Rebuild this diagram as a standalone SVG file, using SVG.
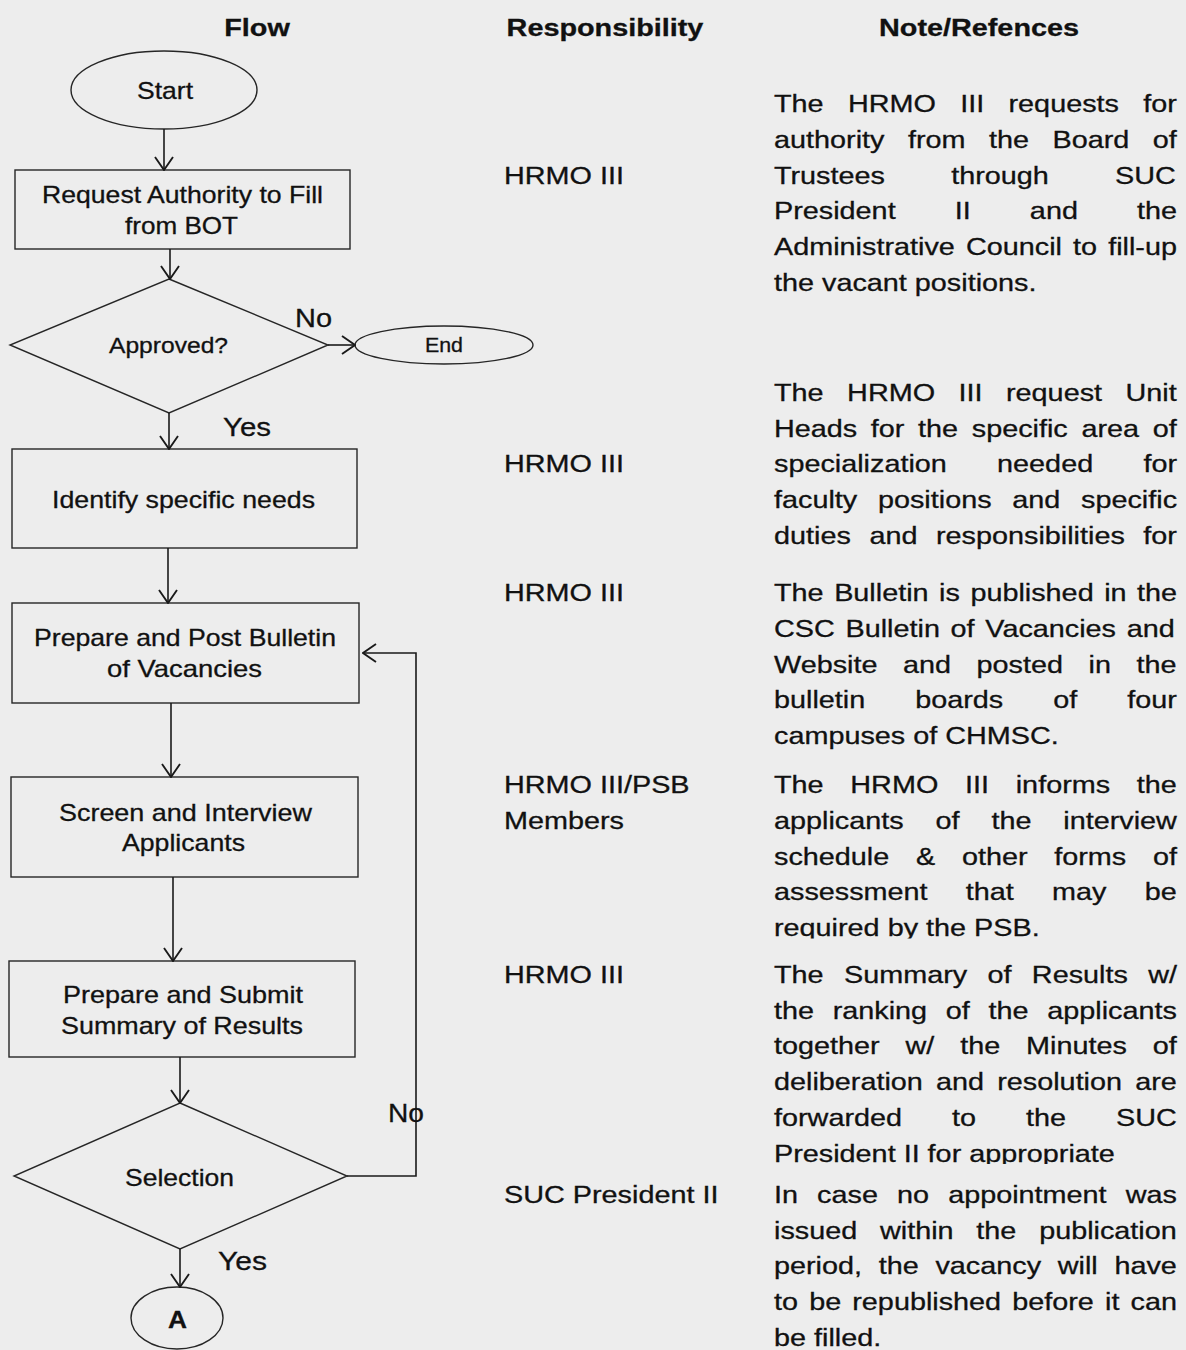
<svg xmlns="http://www.w3.org/2000/svg" width="1186" height="1350" viewBox="0 0 1186 1350">
  <style>
    .bg { fill: #ededed; }
    .shape { fill: none; stroke: #262626; stroke-width: 1.4; }
    .wire { fill: none; stroke: #1a1a1a; stroke-width: 1.6; }
    text { font-family: "Liberation Sans", Arial, sans-serif; fill: #111; stroke: #111; stroke-width: 0.3; }
    .lbl { font-size: 24px; }
    .hdr { font-size: 24px; font-weight: bold; text-anchor: middle; }
    .body { font-size: 24px; }
  </style>
  <defs>
    <marker id="arrow" viewBox="0 0 15 20" refX="14" refY="10" markerWidth="15" markerHeight="20" markerUnits="userSpaceOnUse" orient="auto">
      <path d="M1,1 L14,10 L1,19" fill="none" stroke="#1a1a1a" stroke-width="1.9"/>
    </marker>
    <clipPath id="clip-p4"><rect x="-20" y="760" width="400" height="178.5"/></clipPath>
    <clipPath id="clip-p5"><rect x="-20" y="950" width="400" height="214"/></clipPath>
  </defs>

  <rect class="bg" x="0" y="0" width="1186" height="1350"/>

  <!-- column headings -->
  <g id="headings">
    <text class="hdr" transform="translate(257,36) scale(1.2,1)">Flow</text>
    <text class="hdr" transform="translate(605,36) scale(1.2,1)">Responsibility</text>
    <text class="hdr" transform="translate(979,36) scale(1.2,1)">Note/Refences</text>
  </g>

  <!-- flow nodes -->
  <g id="n-start">
    <ellipse class="shape" cx="164" cy="90" rx="93" ry="39"/>
    <text class="lbl" x="137" y="99" textLength="56" lengthAdjust="spacingAndGlyphs">Start</text>
  </g>
  <g id="n-request">
    <rect class="shape" x="15" y="170" width="335" height="79"/>
    <text class="lbl" x="42" y="203" textLength="281" lengthAdjust="spacingAndGlyphs">Request Authority to Fill</text>
    <text class="lbl" x="125" y="234" textLength="113" lengthAdjust="spacingAndGlyphs">from BOT</text>
  </g>
  <g id="n-approved">
    <polygon class="shape" points="169,279 328,345 169,413 10,345"/>
    <text class="lbl" style="font-size:22px" x="109" y="353" textLength="119" lengthAdjust="spacingAndGlyphs">Approved?</text>
  </g>
  <g id="n-end">
    <ellipse class="shape" cx="444" cy="345" rx="89" ry="19"/>
    <text class="lbl" style="font-size:21px" x="425" y="352" textLength="38" lengthAdjust="spacingAndGlyphs">End</text>
  </g>
  <g id="n-identify">
    <rect class="shape" x="12" y="449" width="345" height="99"/>
    <text class="lbl" x="52" y="508" textLength="263" lengthAdjust="spacingAndGlyphs">Identify specific needs</text>
  </g>
  <g id="n-bulletin">
    <rect class="shape" x="12" y="603" width="347" height="100"/>
    <text class="lbl" x="34" y="646" textLength="302" lengthAdjust="spacingAndGlyphs">Prepare and Post Bulletin</text>
    <text class="lbl" x="107" y="677" textLength="155" lengthAdjust="spacingAndGlyphs">of Vacancies</text>
  </g>
  <g id="n-screen">
    <rect class="shape" x="11" y="777" width="347" height="100"/>
    <text class="lbl" x="59" y="821" textLength="253" lengthAdjust="spacingAndGlyphs">Screen and Interview</text>
    <text class="lbl" x="122" y="851" textLength="123" lengthAdjust="spacingAndGlyphs">Applicants</text>
  </g>
  <g id="n-summary">
    <rect class="shape" x="9" y="961" width="346" height="96"/>
    <text class="lbl" x="63" y="1003" textLength="240" lengthAdjust="spacingAndGlyphs">Prepare and Submit</text>
    <text class="lbl" x="61" y="1034" textLength="242" lengthAdjust="spacingAndGlyphs">Summary of Results</text>
  </g>
  <g id="n-selection">
    <polygon class="shape" points="180,1103 347,1176 180,1249 14,1176"/>
    <text class="lbl" x="125" y="1186" textLength="109" lengthAdjust="spacingAndGlyphs">Selection</text>
  </g>
  <g id="n-a">
    <ellipse class="shape" cx="177" cy="1318" rx="46" ry="31"/>
    <text class="lbl" style="font-weight:bold" x="168" y="1328" textLength="19" lengthAdjust="spacingAndGlyphs">A</text>
  </g>

  <!-- connectors and their branch labels -->
  <g id="connectors">
    <path class="wire" d="M164,129 V170" marker-end="url(#arrow)"/>
    <path class="wire" d="M170,249 V279" marker-end="url(#arrow)"/>
    <path class="wire" d="M328,345 H355" marker-end="url(#arrow)"/>
    <path class="wire" d="M169,413 V449" marker-end="url(#arrow)"/>
    <path class="wire" d="M168,548 V603" marker-end="url(#arrow)"/>
    <path class="wire" d="M171,703 V777" marker-end="url(#arrow)"/>
    <path class="wire" d="M173,877 V961" marker-end="url(#arrow)"/>
    <path class="wire" d="M180,1057 V1103" marker-end="url(#arrow)"/>
    <path class="wire" d="M347,1176 H416 V653 H363" marker-end="url(#arrow)"/>
    <path class="wire" d="M180,1249 V1287" marker-end="url(#arrow)"/>
    <text class="lbl" style="font-size:26px" x="295" y="327" textLength="37" lengthAdjust="spacingAndGlyphs">No</text>
    <text class="lbl" style="font-size:26px" x="223" y="436" textLength="48" lengthAdjust="spacingAndGlyphs">Yes</text>
    <text class="lbl" style="font-size:26px" x="388" y="1122" textLength="36" lengthAdjust="spacingAndGlyphs">No</text>
    <text class="lbl" style="font-size:26px" x="218" y="1270" textLength="49" lengthAdjust="spacingAndGlyphs">Yes</text>
  </g>

  <!-- responsibility column -->
  <g id="responsibility" class="body" transform="translate(504,0) scale(1.2,1)">
    <text class="body" x="0" y="184">HRMO III</text>
    <text class="body" x="0" y="472">HRMO III</text>
    <text class="body" x="0" y="601">HRMO III</text>
    <text class="body" x="0" y="793">HRMO III/PSB</text>
    <text class="body" x="0" y="829">Members</text>
    <text class="body" x="0" y="983">HRMO III</text>
    <text class="body" x="0" y="1203">SUC President II</text>
  </g>

  <!-- notes column: justified lines use per-line word spacing -->
  <g id="notes" transform="translate(774,0) scale(1.2,1)">
    <g id="note-1">
      <text class="body" x="0" y="112" word-spacing="13.6">The HRMO III requests for</text>
      <text class="body" x="0" y="148" word-spacing="12.9">authority from the Board of</text>
      <text class="body" x="0" y="184" word-spacing="48.5">Trustees through SUC</text>
      <text class="body" x="0" y="219" word-spacing="42.6">President II and the</text>
      <text class="body" x="0" y="255" word-spacing="2.6">Administrative Council to fill-up</text>
      <text class="body" x="0" y="291">the vacant positions.</text>
    </g>
    <g id="note-2">
      <text class="body" x="0" y="401" word-spacing="12.9">The HRMO III request Unit</text>
      <text class="body" x="0" y="437" word-spacing="4.7">Heads for the specific area of</text>
      <text class="body" x="0" y="472" word-spacing="35.2">specialization needed for</text>
      <text class="body" x="0" y="508" word-spacing="10.6">faculty positions and specific</text>
      <text class="body" x="0" y="544" word-spacing="8.8">duties and responsibilities for</text>
    </g>
    <g id="note-3">
      <text class="body" x="0" y="601" word-spacing="2.1">The Bulletin is published in the</text>
      <text class="body" x="0" y="637" word-spacing="2.25">CSC Bulletin of Vacancies and</text>
      <text class="body" x="0" y="673" word-spacing="14.6">Website and posted in the</text>
      <text class="body" x="0" y="708" word-spacing="35">bulletin boards of four</text>
      <text class="body" x="0" y="744">campuses of CHMSC.</text>
    </g>
    <g id="note-4" clip-path="url(#clip-p4)">
      <text class="body" x="0" y="793" word-spacing="15.6">The HRMO III informs the</text>
      <text class="body" x="0" y="829" word-spacing="19.9">applicants of the interview</text>
      <text class="body" x="0" y="865" word-spacing="15.6">schedule &amp; other forms of</text>
      <text class="body" x="0" y="900" word-spacing="25.2">assessment that may be</text>
      <text class="body" x="0" y="936">required by the PSB.</text>
    </g>
    <g id="note-5" clip-path="url(#clip-p5)">
      <text class="body" x="0" y="983" word-spacing="10.3">The Summary of Results w/</text>
      <text class="body" x="0" y="1019" word-spacing="8.9">the ranking of the applicants</text>
      <text class="body" x="0" y="1054" word-spacing="14.9">together w/ the Minutes of</text>
      <text class="body" x="0" y="1090" word-spacing="4.3">deliberation and resolution are</text>
      <text class="body" x="0" y="1126" word-spacing="35">forwarded to the SUC</text>
      <text class="body" x="0" y="1162">President II for appropriate</text>
    </g>
    <g id="note-6">
      <text class="body" x="0" y="1203" word-spacing="9.25">In case no appointment was</text>
      <text class="body" x="0" y="1239" word-spacing="12.3">issued within the publication</text>
      <text class="body" x="0" y="1274" word-spacing="7.25">period, the vacancy will have</text>
      <text class="body" x="0" y="1310" word-spacing="2.6">to be republished before it can</text>
      <text class="body" x="0" y="1346">be filled.</text>
    </g>
  </g>
</svg>
